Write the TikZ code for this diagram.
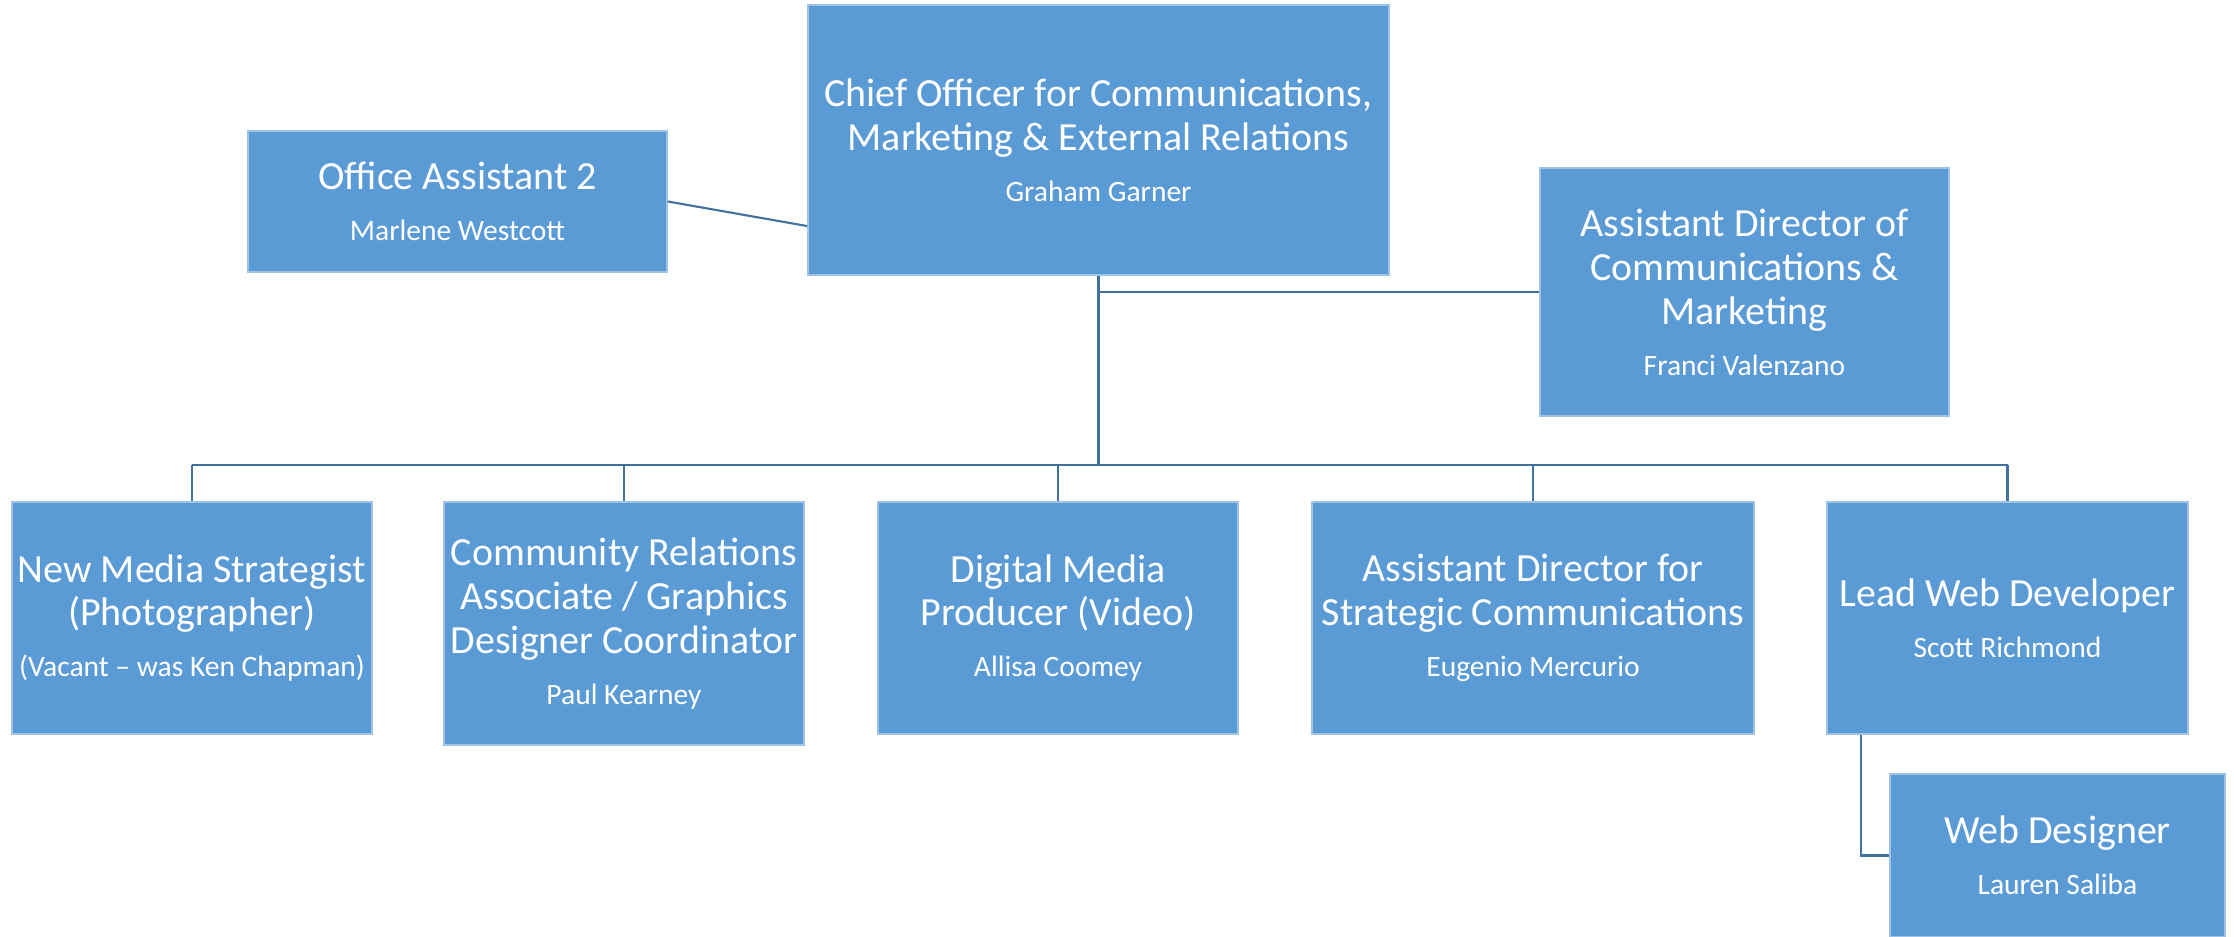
\documentclass[tikz,border=0pt]{standalone}
\usepackage{fontspec}
\setmainfont{Carlito}
\definecolor{boxblue}{RGB}{91,155,213}
\definecolor{linkblue}{RGB}{65,113,156}
\newcommand{\namefont}{\fontsize{8.4}{12.5}\selectfont}

\begin{document}
\begin{tikzpicture}[x=0.01cm,y=-0.01cm]
		\tikzstyle {post} = [fill=boxblue, draw=boxblue!60!white, line width=0.4pt, text=white, align=center, inner sep=0pt, font=\fontsize{11.35}{12.5}\selectfont]
		\tikzstyle {link} = [draw=linkblue, line width=0.6pt]
		\tikzstyle {trunk} = [draw=linkblue, line width=1pt]

		\useasboundingbox (0,0) rectangle (2234,937);

		\node[post, minimum width=5.81cm, minimum height=2.70cm] (chief) at (1098.5,140) {Chief Officer for Communications,\\Marketing \& External Relations\\[2pt]\namefont Graham Garner};
		\node[post, minimum width=4.19cm, minimum height=1.41cm] (oa) at (457.5,201.5) {Office Assistant 2\\[2pt]\namefont Marlene Westcott};
		\node[post, minimum width=4.09cm, minimum height=2.48cm] (adcm) at (1744.5,292) {Assistant Director of\\Communications \&\\Marketing\\[2pt]\namefont Franci Valenzano};

		\node[post, minimum width=3.60cm, minimum height=2.32cm] (nms) at (192,618) {New Media Strategist\\(Photographer)\\[2pt]\namefont (Vacant -- was Ken Chapman)};
		\node[post, minimum width=3.60cm, minimum height=2.43cm] (crg) at (624,623.5) {Community Relations\\Associate / Graphics\\Designer Coordinator\\[2pt]\namefont Paul Kearney};
		\node[post, minimum width=3.60cm, minimum height=2.32cm] (dmp) at (1058,618) {Digital Media\\Producer (Video)\\[2pt]\namefont Allisa Coomey};
		\node[post, minimum width=4.42cm, minimum height=2.32cm] (ads) at (1533,618) {Assistant Director for\\Strategic Communications\\[2pt]\namefont Eugenio Mercurio};
		\node[post, minimum width=3.61cm, minimum height=2.32cm] (lwd) at (2007.5,618) {Lead Web Developer\\[2pt]\namefont Scott Richmond};
		\node[post, minimum width=3.35cm, minimum height=1.63cm] (wd) at (2057.5,855.5) {Web Designer\\[2pt]\namefont Lauren Saliba};

		\coordinate (bus) at (0,465);
		\draw[trunk] (chief.south) -- (chief.south |- bus);
		\draw[link] (adcm.west) -- (adcm.west -| chief.south);
		\draw[link, line width=0.8pt] (nms.north |- bus) -- (lwd.north |- bus);
		\foreach \n in {nms,crg,dmp,ads,lwd}
			\draw[link] (\n.north |- bus) -- (\n.north);

		\draw[link] (oa.east) -- ([yshift=-0.86cm]chief.west);
		\draw[link] ([xshift=0.35cm]lwd.south west) |- (wd.west);
	\end{tikzpicture}
\end{document}
